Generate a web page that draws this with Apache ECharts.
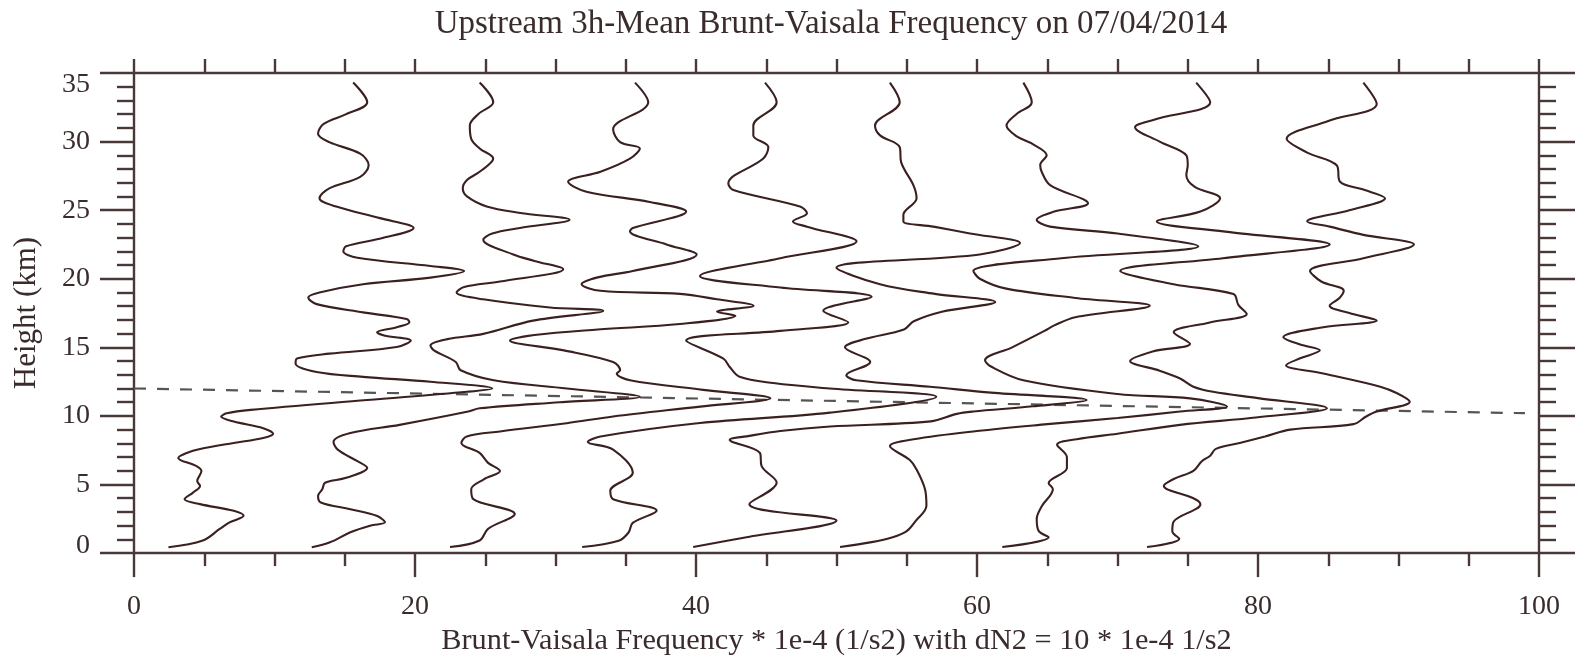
<!DOCTYPE html>
<html>
<head>
<meta charset="utf-8">
<script src="https://cdn.jsdelivr.net/npm/echarts@6/dist/echarts.min.js"></script>
<style>
  html, body { margin: 0; padding: 0; background: #ffffff; }
  #chart { width: 1576px; height: 661px; }
</style>
</head>
<body>
<div id="chart"></div>
<script>
// Successive profiles are shifted right by dN2 along the x axis.
const dN2 = 10;

// Each profile: [height (km), Brunt-Vaisala frequency * 1e-4 (1/s2)]
const profile1 = [
  [0.43,2.45],[0.92,4.9],[1.76,6.1],[2.24,6.8],[2.72,7.8],[3.08,7.1],[3.57,4.7],[3.93,3.6],
  [4.41,4.2],[4.9,4.7],[5.25,4.5],[5.98,4.8],[6.34,4.45],[6.94,3.15],[7.3,3.75],[7.59,4.7],
  [8.03,7.1],[8.39,9.2],[8.7,9.9],[9.11,9.2],[9.59,7.1],[9.95,6.2],[10.19,6.6],[10.44,8.3],
  [11.16,16.6],[11.76,23.7],[12.0,25.5],[12.49,21.1],[12.85,16.3],[13.2,13.0],[13.82,11.5],
  [14.18,11.6],[14.54,13.9],[15.02,18.7],[15.5,19.7],[15.87,17.8],[16.1,17.3],[16.47,18.7],
  [16.83,19.6],[17.07,19.4],[17.55,16.3],[18.15,13.0],[18.64,12.4],[19.0,13.2],[19.6,16.3],
  [20.08,21.1],[20.56,23.5],[20.93,21.1],[21.53,15.9],[22.0,14.9],[22.37,15.1],[22.97,17.7],
  [23.7,19.9],[24.42,17.5],[25.26,14.4],[25.87,13.2],[26.59,13.9],[27.43,16.1],[28.28,16.7],
  [29.12,16.1],[29.96,13.9],[30.57,13.1],[31.29,13.5],[32.0,15.1],[32.86,16.6],[34.3,15.6]
];
const profile2 = [
  [0.43,2.65],[0.79,3.95],[1.52,5.4],[2.0,6.8],[2.24,7.86],[2.72,7.27],[3.2,5.4],[3.69,3.3],
  [4.17,3.1],[4.65,3.4],[5.13,3.6],[5.49,5.1],[6.22,6.6],[6.7,5.9],[7.54,4.5],[8.1,4.2],
  [8.75,5.4],[9.35,8.9],[10.3,13.7],[10.56,14.6],[11.0,20.3],[11.4,26.0],[12.0,20.8],
  [12.6,15.6],[13.33,13.25],[13.93,12.9],[14.78,11.35],[15.14,11.1],[15.6,12.3],[15.98,14.86],
  [16.95,18.4],[17.67,23.4],[17.91,19.6],[18.5,14.86],[19.0,12.96],[19.4,13.5],[19.8,16.05],
  [20.7,20.55],[21.3,18.5],[21.77,17.0],[22.85,14.86],[23.3,15.5],[23.7,17.47],[24.3,21.0],
  [24.8,17.5],[25.27,15.1],[26.0,13.7],[26.6,13.4],[27.2,13.7],[27.8,14.6],[28.76,15.57],
  [29.5,14.6],[30.2,14.0],[31.17,13.9],[32.0,14.5],[32.86,15.57],[34.3,14.6]
];
const profile3 = [
  [0.44,2.49],[0.92,4.6],[1.77,5.2],[2.85,7.1],[3.93,4.15],[4.66,4.0],[5.38,4.9],[5.98,6.05],
  [6.58,5.2],[7.3,4.6],[8.03,3.3],[8.5,3.68],[8.87,6.05],[9.47,10.8],[9.96,14.1],[10.68,20.3],
  [11.28,25.3],[11.9,20.5],[12.6,15.3],[13.09,14.36],[13.33,14.6],[13.93,14.1],[14.78,10.6],
  [15.5,6.76],[15.9,8.5],[16.3,13.0],[16.7,18.86],[17.3,22.8],[17.6,21.5],[18.03,24.1],
  [18.5,21.5],[18.9,18.86],[19.12,13.2],[19.6,11.86],[20.1,13.0],[20.57,15.5],[21.77,20.05],
  [22.5,17.9],[23.46,15.3],[23.7,15.5],[24.9,19.3],[25.6,16.7],[26.35,12.2],[27.07,10.9],
  [27.8,13.2],[28.76,15.3],[29.5,16.0],[29.96,14.6],[30.9,14.1],[32.86,16.6],[34.3,15.66]
];
const profile4 = [
  [0.44,1.9],[0.9,4.5],[1.5,5.2],[2.2,5.5],[3.09,7.2],[3.93,4.1],[4.54,3.9],[5.86,5.5],
  [7.55,4.1],[8.1,2.3],[8.5,3.2],[9.48,10.28],[10.24,19.54],[11.4,27.1],[12.0,19.5],
  [12.4,15.5],[12.85,13.1],[13.57,12.4],[14.18,11.95],[15.5,9.3],[16.2,16.0],[16.83,20.84],
  [17.67,19.06],[18.68,22.5],[19.36,16.0],[20.2,10.28],[21.5,16.0],[22.73,21.43],[23.8,17.9],
  [24.18,16.9],[24.78,17.9],[25.26,17.4],[26.47,12.66],[26.95,12.3],[28.76,14.79],[29.6,15.15],
  [30.45,14.08],[31.17,14.08],[32.86,15.74],[34.3,14.91]
];
const profile5 = [
  [0.44,-0.2],[1.16,3.6],[2.37,10.0],[3.57,3.8],[5.14,5.74],[6.34,4.67],[7.31,4.55],[8.27,2.4],
  [8.51,3.6],[8.9,6.0],[9.23,9.54],[9.6,16.7],[10.15,18.56],[10.32,19.74],[10.7,24.0],
  [11.16,27.8],[11.7,21.0],[12.13,16.66],[12.6,11.4],[12.97,10.7],[13.93,12.4],[15.0,10.6],
  [15.6,12.0],[16.3,14.8],[16.9,15.5],[17.6,17.5],[18.3,21.3],[18.9,17.0],[19.6,13.1],
  [20.8,10.0],[21.77,20.2],[22.6,23.06],[23.3,19.5],[23.8,16.9],[24.18,14.76],[24.66,14.76],
  [25.87,15.7],[26.83,15.47],[28.5,14.6],[29.6,14.5],[30.45,13.1],[31.17,12.74],[32.86,14.5],
  [34.3,13.8]
];
const profile6 = [
  [0.44,0.25],[0.8,2.5],[1.16,4.0],[1.6,5.0],[2.3,5.6],[3.45,6.4],[4.66,6.3],[6.1,5.7],
  [6.8,5.2],[7.8,3.8],[8.3,5.5],[8.9,10.0],[9.4,15.0],[9.85,20.0],[10.32,24.45],[10.68,27.8],
  [11.28,25.16],[11.6,20.0],[12.6,13.3],[13.6,11.0],[14.06,10.57],[15.0,12.5],[16.2,14.8],
  [16.6,15.5],[17.2,17.0],[18.03,22.3],[18.6,17.0],[19.3,12.0],[20.0,10.2],[20.57,9.74],
  [21.5,16.0],[22.37,25.75],[23.3,20.0],[23.8,15.2],[24.3,14.25],[24.9,15.5],[25.5,17.9],
  [26.83,15.2],[27.8,14.6],[28.3,14.5],[29.0,14.96],[29.8,14.0],[30.4,12.8],[31.17,12.1],
  [32.0,12.8],[32.86,13.9],[34.3,13.3]
];
const profile7 = [
  [0.44,1.8],[1.16,5.1],[1.6,4.4],[2.49,4.25],[3.4,4.6],[4.66,5.4],[5.1,5.1],[6.2,6.4],
  [7.0,6.4],[7.9,5.7],[8.3,7.1],[8.7,10.0],[9.35,14.45],[9.9,20.0],[10.56,24.9],[11.3,20.0],
  [11.76,16.8],[12.13,15.4],[12.73,14.45],[13.3,13.0],[14.0,10.9],[14.7,12.5],[15.26,15.16],
  [16.1,14.0],[16.8,16.5],[17.43,19.2],[18.1,18.6],[18.88,18.25],[19.6,14.0],[20.57,10.2],
  [21.5,17.5],[22.5,25.1],[23.4,18.0],[24.18,12.8],[24.9,15.9],[25.87,17.3],[26.7,15.5],
  [27.55,14.9],[28.3,15.0],[29.0,14.9],[30.0,13.0],[31.05,11.25],[31.6,12.6],[32.86,16.6],
  [34.3,15.6]
];
const profile8 = [
  [0.44,2.1],[1.04,4.4],[1.6,3.9],[2.3,4.0],[3.57,5.9],[4.0,5.4],[4.9,3.3],[5.4,4.0],
  [6.0,5.4],[6.7,6.0],[7.1,6.6],[7.6,7.0],[8.03,8.7],[8.5,10.5],[9.0,12.3],[9.4,16.8],
  [9.96,17.7],[10.32,18.45],[11.04,20.8],[11.65,19.9],[12.13,18.7],[13.09,14.65],[13.7,12.0],
  [14.2,13.0],[14.78,14.4],[15.2,13.0],[15.74,11.8],[16.47,14.65],[16.95,18.45],[17.5,16.5],
  [18.03,15.1],[18.6,15.8],[19.12,16.1],[19.8,14.5],[20.57,13.7],[21.5,17.5],[22.5,21.1],
  [23.2,17.5],[23.8,15.1],[24.18,13.5],[25.0,16.5],[25.87,19.04],[26.5,17.5],[27.07,15.84],
  [28.28,15.6],[29.2,13.5],[30.2,12.04],[31.5,15.0],[32.74,18.45],[34.3,17.5]
];
const profiles = [profile1, profile2, profile3, profile4, profile5, profile6, profile7, profile8];

// Tropopause guide: [x, height] end points
const tropopauseLine = [[0, 12.0], [99, 10.2]];

// Axis ranges and tick spacing
const xRange = [0, 100];
const xMajor = 20;
const yRange = [0, 35];
const yMajor = 5;

const FONT = 'Liberation Serif';
const INK = '#3a2c2c';
const AXIS = '#4a3838';
const CURVE = '#3b2020';

const chart = echarts.init(document.getElementById('chart'), null, { renderer: 'canvas' });

const axisLineStyle = { color: AXIS, width: 2.4 };

const series = profiles.map((p, i) => ({
  type: 'line',
  xAxisIndex: 0,
  yAxisIndex: 0,
  data: p.map(([z, n]) => [n + i * dN2, z]),
  showSymbol: false,
  smooth: 0.35,
  lineStyle: { color: CURVE, width: 2.1 },
  silent: true,
  animation: false,
  z: 3
}));

series.push({
  type: 'line',
  xAxisIndex: 0,
  yAxisIndex: 0,
  data: tropopauseLine,
  showSymbol: false,
  lineStyle: { color: '#555555', width: 2.2, type: [12, 11] },
  silent: true,
  animation: false,
  z: 2
});

chart.setOption({
  backgroundColor: '#ffffff',
  animation: false,
  title: {
    text: 'Upstream 3h-Mean Brunt-Vaisala Frequency on 07/04/2014',
    left: 826,
    top: 3,
    textAlign: 'center',
    textStyle: { fontFamily: FONT, fontSize: 33, fontWeight: 'normal', color: INK }
  },
  grid: { left: 134, right: 37, top: 73, bottom: 103, containLabel: false },
  xAxis: [
    {
      type: 'value', position: 'bottom',
      min: xRange[0], max: xRange[1], interval: xMajor,
      name: 'Brunt-Vaisala Frequency * 1e-4 (1/s2) with dN2 = 10 * 1e-4 1/s2',
      nameLocation: 'middle', nameGap: 70,
      nameTextStyle: { fontFamily: FONT, fontSize: 30.3, color: INK },
      axisLine: { show: true, onZero: false, lineStyle: axisLineStyle },
      axisTick: { show: true, inside: false, length: 24, lineStyle: axisLineStyle },
      minorTick: { show: true, splitNumber: 4, length: 13, lineStyle: axisLineStyle },
      axisLabel: { margin: 40, fontFamily: FONT, fontSize: 28, color: INK },
      splitLine: { show: false }, minorSplitLine: { show: false }
    },
    {
      type: 'value', position: 'top',
      min: xRange[0], max: xRange[1], interval: 5,
      axisLine: { show: true, onZero: false, lineStyle: axisLineStyle },
      axisTick: { show: true, inside: false, length: 14, lineStyle: axisLineStyle },
      axisLabel: { show: false },
      splitLine: { show: false }
    }
  ],
  yAxis: [
    {
      type: 'value', position: 'left',
      min: yRange[0], max: yRange[1], interval: yMajor,
      name: 'Height (km)',
      nameLocation: 'middle', nameGap: 92, nameRotate: 90,
      nameTextStyle: { fontFamily: FONT, fontSize: 31, color: INK },
      axisLine: { show: true, onZero: false, lineStyle: axisLineStyle },
      axisTick: { show: true, inside: false, length: 34, lineStyle: axisLineStyle },
      minorTick: { show: true, splitNumber: 5, length: 17, lineStyle: axisLineStyle },
      axisLabel: {
        margin: 44, fontFamily: FONT, fontSize: 28, color: INK,
        formatter: v => v === yRange[0] ? '{lo|' + v + '}' : (v === yRange[1] ? '{hi|' + v + '}' : String(v)),
        rich: {
          lo: { fontFamily: FONT, fontSize: 28, color: INK, padding: [0, 0, 14, 0] },
          hi: { fontFamily: FONT, fontSize: 28, color: INK, padding: [24, 0, 0, 0] }
        }
      },
      splitLine: { show: false }, minorSplitLine: { show: false }
    },
    {
      type: 'value', position: 'right',
      min: yRange[0], max: yRange[1], interval: yMajor,
      axisLine: { show: true, onZero: false, lineStyle: axisLineStyle },
      axisTick: { show: true, inside: false, length: 36, lineStyle: axisLineStyle },
      minorTick: { show: true, splitNumber: 5, length: 17, lineStyle: axisLineStyle },
      axisLabel: { show: false },
      splitLine: { show: false }, minorSplitLine: { show: false }
    }
  ],
  series: series
});
</script>
</body>
</html>
